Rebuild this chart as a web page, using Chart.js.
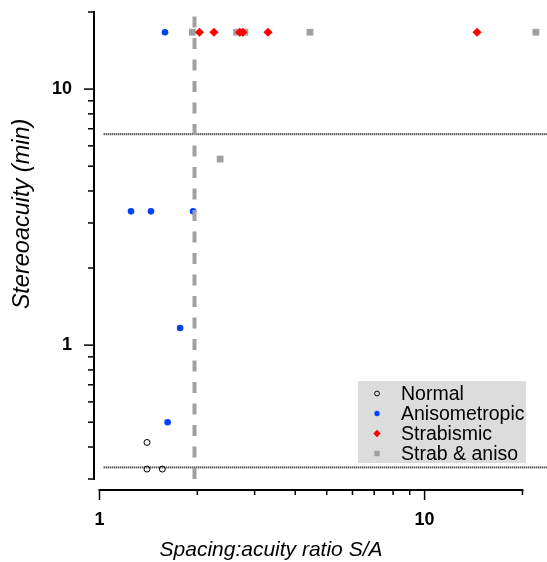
<!DOCTYPE html>
<html>
<head>
<meta charset="utf-8">
<script src="https://cdn.jsdelivr.net/npm/chart.js@4/dist/chart.umd.min.js"></script>
<style>
html, body { margin: 0; padding: 0; background: #fff; }
#wrap { width: 547px; height: 562px; }
</style>
</head>
<body>
<div id="wrap"><canvas id="stereoChart" width="547" height="562"></canvas></div>
<script>
// values: x = spacing:acuity ratio, y = stereoacuity (min)
const normalX = [1.40, 1.40, 1.56];
const normalY = [0.4167, 0.328, 0.328];
const anisoX = [1.59, 1.25, 1.44, 1.94, 1.77, 1.62];
const anisoY = [16.67, 3.33, 3.33, 3.33, 1.167, 0.5];
const strabX = [2.03, 2.25, 2.70, 2.76, 3.30, 14.5];
const strabY = [16.67, 16.67, 16.67, 16.67, 16.67, 16.67];
const bothX = [1.93, 2.64, 2.80, 4.44, 22.0, 2.35];
const bothY = [16.67, 16.67, 16.67, 16.67, 16.67, 5.33];

// reference lines
const critRatio = 1.96;
const stereoLimits = [6.667, 0.333];

// axes
const xRange = [1, 23.8];
const yRange = [0.3, 20];
const xAxisEnd = 20;
const xMajor = [1, 10];
const xMinor = [2, 3, 4, 5, 6, 7, 8, 9, 20];
const yMajor = [1, 10];
const yMinor = [0.3, 0.4, 0.5, 0.6, 0.7, 0.8, 0.9, 2, 3, 4, 5, 6, 7, 8, 9, 20];
const xTitle = 'Spacing:acuity ratio S/A';
const yTitle = 'Stereoacuity (min)';

const pts = (xs, ys) => xs.map((x, i) => ({ x: x, y: ys[i] }));

const datasets = [
	{
		label: 'Normal',
		data: pts(normalX, normalY),
		pointStyle: 'circle',
		pointRadius: 3,
		backgroundColor: 'rgba(0,0,0,0)',
		borderColor: '#000',
		borderWidth: 1,
		order: 3,
	},
	{
		label: 'Anisometropic',
		data: pts(anisoX, anisoY),
		pointStyle: 'circle',
		pointRadius: 3.3,
		backgroundColor: '#0040ff',
		borderColor: '#0040ff',
		borderWidth: 0,
		order: 3,
	},
	{
		label: 'Strabismic',
		data: pts(strabX, strabY),
		pointStyle: 'rectRot',
		pointRadius: 4.6,
		backgroundColor: '#ff0000',
		borderColor: '#ff0000',
		borderWidth: 0,
		order: 2,
	},
	{
		label: 'Strab & aniso',
		data: pts(bothX, bothY),
		pointStyle: 'rect',
		pointRadius: 4.8,
		backgroundColor: '#a0a0a0',
		borderColor: '#a0a0a0',
		borderWidth: 0,
		order: 4,
		clip: false,
	},
	{
		label: 'ratio',
		data: [{ x: critRatio, y: yRange[0] }, { x: critRatio, y: yRange[1] }],
		showLine: true,
		pointRadius: 0,
		borderColor: '#a0a0a0',
		borderWidth: 4,
		borderDash: [11, 10.5],
		order: 1,
	},
];
stereoLimits.forEach((v) => {
	datasets.push({
		label: 'limit',
		data: [{ x: 1.03, y: v }, { x: xRange[1], y: v }],
		showLine: true,
		pointRadius: 0,
		borderColor: '#111',
		borderWidth: 2,
		borderDash: [1, 1],
		order: 5,
	});
});

const igorAxes = {
	id: 'igorAxes',
	afterDatasetsDraw(chart) {
		const ctx = chart.ctx;
		const xs = chart.scales.x;
		const ys = chart.scales.y;
		const area = chart.chartArea;
		const axY = area.bottom + 11; // x axis sits below the plot
		const axX = area.left - 5.5; // y axis sits left of the plot
		ctx.save();
		ctx.strokeStyle = '#000';
		ctx.fillStyle = '#000';
		ctx.lineWidth = 2;
		ctx.lineCap = 'butt';

		// x axis
		ctx.beginPath();
		ctx.moveTo(xs.getPixelForValue(xRange[0]) - 1, axY);
		ctx.lineTo(xs.getPixelForValue(xAxisEnd) + 1, axY);
		ctx.stroke();
		ctx.lineWidth = 1.5;
		xMajor.forEach((v) => {
			const p = xs.getPixelForValue(v);
			ctx.beginPath(); ctx.moveTo(p, axY); ctx.lineTo(p, axY + 10); ctx.stroke();
		});
		xMinor.forEach((v) => {
			const p = xs.getPixelForValue(v);
			ctx.beginPath(); ctx.moveTo(p, axY); ctx.lineTo(p, axY + 5); ctx.stroke();
		});

		// y axis
		ctx.lineWidth = 2;
		ctx.beginPath();
		ctx.moveTo(axX, ys.getPixelForValue(yRange[0]) + 1);
		ctx.lineTo(axX, ys.getPixelForValue(yRange[1]) - 1);
		ctx.stroke();
		ctx.lineWidth = 1.5;
		yMajor.forEach((v) => {
			const p = ys.getPixelForValue(v);
			ctx.beginPath(); ctx.moveTo(axX, p); ctx.lineTo(axX - 10, p); ctx.stroke();
		});
		yMinor.forEach((v) => {
			const p = ys.getPixelForValue(v);
			ctx.beginPath(); ctx.moveTo(axX, p); ctx.lineTo(axX - 6, p); ctx.stroke();
		});

		// tick labels
		ctx.font = 'bold 18px "Liberation Sans", Arial, sans-serif';
		ctx.textBaseline = 'middle';
		ctx.textAlign = 'center';
		xMajor.forEach((v) => ctx.fillText(String(v), xs.getPixelForValue(v), axY + 30));
		ctx.textAlign = 'right';
		yMajor.forEach((v) => ctx.fillText(String(v), axX - 22, ys.getPixelForValue(v)));

		// titles
		ctx.font = 'italic 21px "Liberation Sans", Arial, sans-serif';
		ctx.textAlign = 'center';
		ctx.textBaseline = 'alphabetic';
		ctx.fillText(xTitle, 271, 556);
		ctx.font = 'italic 23.5px "Liberation Sans", Arial, sans-serif';
		ctx.textBaseline = 'middle';
		ctx.translate(22, 214);
		ctx.rotate(-Math.PI / 2);
		ctx.fillText(yTitle, 0, 0);
		ctx.restore();

		// legend box
		ctx.save();
		ctx.fillStyle = '#dcdcdc';
		ctx.fillRect(358, 381, 168, 82);
		ctx.font = '19.5px "Liberation Sans", Arial, sans-serif';
		ctx.textBaseline = 'middle';
		ctx.textAlign = 'left';
		chart.data.datasets.slice(0, 4).forEach((ds, i) => {
			const cy = 393.5 + i * 20;
			ctx.fillStyle = ds.backgroundColor;
			ctx.strokeStyle = ds.borderColor;
			ctx.lineWidth = ds.borderWidth;
			Chart.helpers.drawPoint(ctx, { pointStyle: ds.pointStyle, radius: ds.pointRadius * 0.8, borderWidth: ds.borderWidth }, 377, cy);
			ctx.fillStyle = '#000';
			ctx.fillText(ds.label, 401, cy + 1);
		});
		ctx.restore();
	},
};

new Chart(document.getElementById('stereoChart'), {
	type: 'scatter',
	data: { datasets: datasets },
	options: {
		responsive: false,
		animation: false,
		devicePixelRatio: 1,
		layout: { autoPadding: false, padding: { left: 99.5, right: 0, top: 12, bottom: 83 } },
		scales: {
			x: { type: 'logarithmic', min: xRange[0], max: xRange[1], display: false },
			y: { type: 'logarithmic', min: yRange[0], max: yRange[1], display: false },
		},
		plugins: {
			legend: { display: false },
			tooltip: { enabled: false },
		},
	},
	plugins: [igorAxes],
});
</script>
</body>
</html>
